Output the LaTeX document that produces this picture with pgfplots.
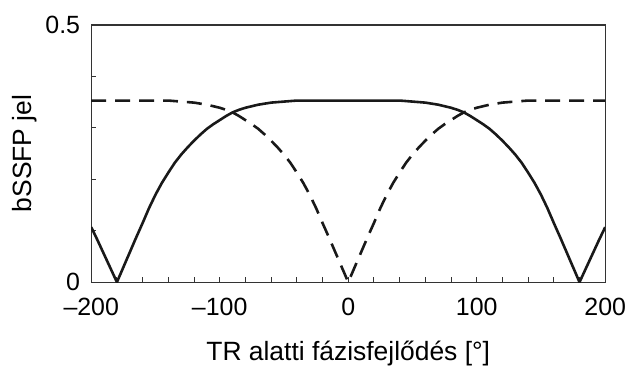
\documentclass[border=0pt]{standalone}
\usepackage{fontspec}
\setmainfont{Liberation Sans}
\usepackage{pgfplots}
\usepackage{pgfplotstable}
\pgfplotsset{compat=1.18}
\pgfplotstableread{
x y
-200 0.107
-195 0.081
-190 0.054
-185 0.027
-180 0
-175 0.029
-170 0.058
-165 0.087
-160 0.115
-155 0.144
-150 0.170
-145 0.193
-140 0.213
-135 0.232
-130 0.248
-125 0.262
-120 0.275
-115 0.287
-110 0.298
-105 0.307
-100 0.315
-95 0.323
-90 0.330
-85 0.335
-80 0.339
-70 0.345
-60 0.349
-50 0.351
-40 0.353
0 0.353
40 0.353
50 0.351
60 0.349
70 0.345
80 0.339
85 0.335
90 0.330
95 0.323
100 0.315
105 0.307
110 0.298
115 0.287
120 0.275
125 0.262
130 0.248
135 0.232
140 0.213
145 0.193
150 0.170
155 0.144
160 0.115
165 0.087
170 0.058
175 0.029
180 0
185 0.027
190 0.054
195 0.081
200 0.107
}\solid
\pgfplotstableread{
x y
-200 0.353
-140 0.353
-130 0.351
-120 0.349
-110 0.345
-100 0.339
-95 0.335
-90 0.330
-85 0.323
-80 0.315
-75 0.307
-70 0.298
-65 0.287
-60 0.275
-55 0.262
-50 0.248
-45 0.232
-40 0.213
-35 0.193
-30 0.170
-25 0.144
-20 0.115
-15 0.087
-10 0.058
-5 0.029
0 0
5 0.029
10 0.058
15 0.087
20 0.115
25 0.144
30 0.170
35 0.193
40 0.213
45 0.232
50 0.248
55 0.262
60 0.275
65 0.287
70 0.298
75 0.307
80 0.315
85 0.323
90 0.330
95 0.335
100 0.339
110 0.345
120 0.349
130 0.351
140 0.353
200 0.353
}\dashedcurve
\begin{document}
\begin{tikzpicture}
\begin{axis}[
  scale only axis, width=515.5bp, height=258bp,
  xmin=-200, xmax=200, ymin=0, ymax=0.5,
  xtick={-200,-100,0,100,200},
  xticklabels={\textendash200,\textendash100,0,100,200},
  minor xtick={-180,-160,...,180},
  ytick={0,0.5}, yticklabels={0,0.5},
  minor ytick={0.1,0.2,0.3,0.4},
  tick align=inside, xtick pos=bottom, ytick pos=left,
  major tick length=5bp, minor tick length=5bp,
  every tick/.style={black!80, line width=0.9bp},
  axis line style={line width=1.3bp, black!80},
  xticklabel style={font=\fontsize{25bp}{29bp}\selectfont, anchor=base, yshift=-33bp, inner sep=0pt},
  yticklabel style={font=\fontsize{25bp}{29bp}\selectfont, anchor=east, inner sep=0pt, xshift=-11bp},
  xlabel={TR alatti fázisfejlődés [°]},
  ylabel={bSSFP jel},
  xlabel style={font=\fontsize{26.5bp}{31bp}\selectfont, at={(axis description cs:0.5,-0.306)}, anchor=base},
  ylabel style={font=\fontsize{26.5bp}{31bp}\selectfont, at={(axis description cs:-0.13,0.5)}, anchor=center},
]
\addplot[black!90, line width=2.6bp] table[x=x,y=y] {\solid};
\addplot[black!90, line width=2.6bp, dash pattern=on 15bp off 9bp] table[x=x,y=y] {\dashedcurve};
\end{axis}
\useasboundingbox (-91.5bp,-87bp) rectangle (534.5bp,283bp);
\end{tikzpicture}
\end{document}
